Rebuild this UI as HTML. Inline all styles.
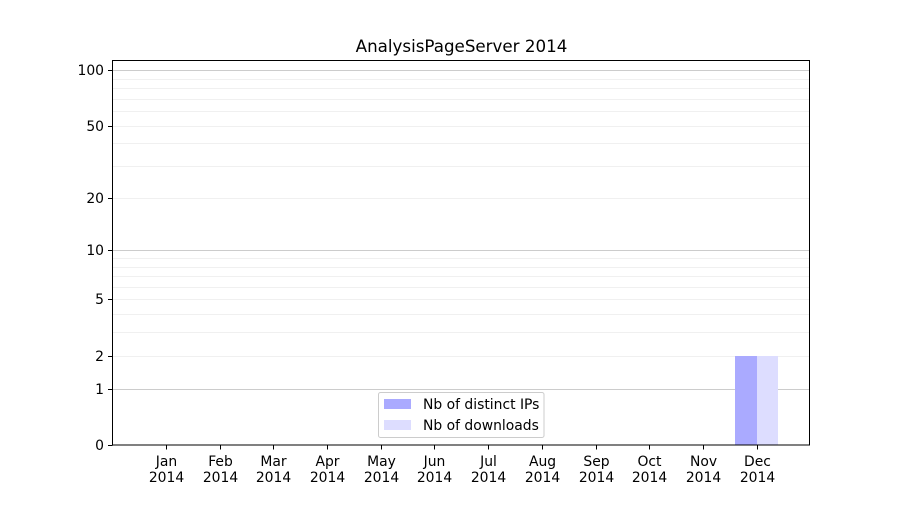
<!DOCTYPE html>
<html><head><meta charset="utf-8"><style>
body{margin:0;background:#fff}
svg text{font-family:"DejaVu Sans","Liberation Sans",sans-serif;font-size:13.9px;fill:#000}
</style></head><body>
<svg id="s" width="900" height="500" xmlns="http://www.w3.org/2000/svg">
<rect width="900" height="500" fill="#fff"/>
<g id="grid"></g>
<rect x="735" y="356" width="22" height="89" fill="#aaaaff"/>
<rect x="757" y="356" width="21" height="89" fill="#ddddff"/>
<g id="ax"></g>
<text x="461.5" y="52" text-anchor="middle" style="font-size:16.7px">AnalysisPageServer 2014</text>
<rect x="378.5" y="392.5" width="165.5" height="45" rx="2" fill="#fff" fill-opacity="0.8" stroke="#ccc"/>
<rect x="384" y="399" width="27" height="10" fill="#aaaaff"/>
<rect x="384" y="420" width="27" height="10" fill="#ddddff"/>
<text x="423" y="409">Nb of distinct IPs</text>
<text x="423" y="430">Nb of downloads</text>
</svg>
<script>
var ns="http://www.w3.org/2000/svg";
function el(p,t,a,tx){var e=document.createElementNS(ns,t);for(var k in a)e.setAttribute(k,a[k]);if(tx!==undefined)e.textContent=tx;document.getElementById(p).appendChild(e);}
function Y(v){return 445-187*Math.log10(1+v);}
var vals=[1,2,3,4,5,6,7,8,9,10,20,30,40,50,60,70,80,90,100];
vals.forEach(function(v){var y=Math.round(Y(v))+0.5;var maj=(v==1||v==10||v==100);
el("grid","line",{x1:113,x2:810,y1:y,y2:y,stroke:maj?"#cccccc":"#ebebeb","stroke-width":maj?1:0.8});});
el("ax","rect",{x:112.5,y:60.5,width:697,height:384.5,fill:"none",stroke:"#000","stroke-width":1});
[0,1,2,5,10,20,50,100].forEach(function(v){var y=Math.round(Y(v))+0.5;
el("ax","line",{x1:108,x2:112.5,y1:y,y2:y,stroke:"#000"});
el("ax","text",{x:104,y:y+4.5,"text-anchor":"end"},String(v));});
var m=["Jan","Feb","Mar","Apr","May","Jun","Jul","Aug","Sep","Oct","Nov","Dec"];
var xs=[166,220,273,327,381,434,488,542,596,649,703,757];
m.forEach(function(n,i){var x=xs[i]+0.5;
el("ax","line",{x1:x,x2:x,y1:445,y2:449.5,stroke:"#000"});
el("ax","text",{x:x,y:466,"text-anchor":"middle"},n);
el("ax","text",{x:x,y:482,"text-anchor":"middle"},"2014");});
</script>
</body></html>
